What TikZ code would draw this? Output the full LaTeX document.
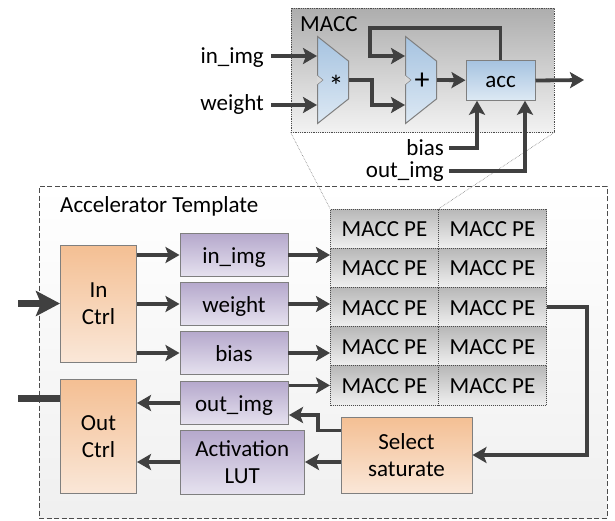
\documentclass[tikz,border=0pt]{standalone}
\usepackage{fontspec}
\setmainfont{Carlito}
\usetikzlibrary{shapes.geometric, arrows.meta}
\definecolor{linegray}{HTML}{404040}
\definecolor{edgegray}{HTML}{7F7F7F}
\definecolor{ctrltop}{HTML}{F4BF93}
\definecolor{ctrlbottom}{HTML}{FAE7D8}
\definecolor{buftop}{HTML}{B5A8CC}
\definecolor{bufbottom}{HTML}{E6E2EF}
\definecolor{muxtop}{HTML}{A6C3E0}
\definecolor{muxbottom}{HTML}{DDE9F4}
\tikzset{
	blocknode/.style = {rectangle, inner sep=0pt, text centered, draw=edgegray, line width=1pt, align=center, text=black},
	ctrl/.style = {blocknode, minimum width=76pt, top color=ctrltop, bottom color=ctrlbottom},
	lutblock/.style = {blocknode, top color=buftop, bottom color=bufbottom},
	buffer/.style = {lutblock, minimum width=108pt, minimum height=43.5pt, text height=18pt, text depth=2pt},
	macc/.style = {blocknode, minimum width=108pt, minimum height=39.2pt, text height=18pt, text depth=2pt, draw=black!70, densely dotted, top color=black!28, bottom color=black!6},
	mux/.style = {trapezium, trapezium left angle=57, trapezium right angle=57, trapezium stretches=true, shape border rotate=270, inner sep=1pt, minimum height=31pt, minimum width=87pt, draw=edgegray, line width=1pt, top color=muxtop, bottom color=muxbottom},
	clkmark/.style = {draw=edgegray, fill=black!15, line width=0.5pt},
	textlabel/.style = {inner sep=0pt},
	muxsign/.style = {inner sep=0pt, font=\fontsize{30}{30}\selectfont},
	line/.style = {draw=linegray, line width=3.8pt, -{Stealth[length=14pt, width=16pt, inset=3pt]}},
	bigline/.style = {draw=linegray, line width=7pt, -{Stealth[length=24pt, width=25pt, inset=5pt]}},
	plainline/.style = {draw=linegray, line width=7pt}
}
\begin{document}
\begin{tikzpicture}[x=1pt, y=-1pt, node distance=49pt, font=\fontsize{23}{27}\selectfont]
	\useasboundingbox (0,0) rectangle (615,520);
	% Define outer frames
	\node (template) [rectangle, draw=black!70, dash pattern=on 5pt off 2.5pt, line width=0.8pt, minimum width=568pt, minimum height=332pt, top color=white, bottom color=black!6] at (323,352) {};
	\node (maccbox) [rectangle, draw=black!70, densely dotted, line width=0.8pt, minimum width=263pt, minimum height=124pt, top color=black!32, bottom color=black!5] at (422.5,70) {};
	\node (templatename) [textlabel, anchor=base west] at (60,212.5) {Accelerator Template};
	\node (maccname) [textlabel, anchor=base west] at (300,31) {MACC};

	% Define MACC components
	\node (mult) [mux] at (333,80) {};
	\node (add) [mux] at (421,80) {};
	\node (multsign) [muxsign] at (336,86) {*};
	\node (addsign) [muxsign] at (422,81) {+};
	\node (acc) [blocknode, minimum width=69pt, minimum height=39.5pt, text height=18pt, text depth=4pt, top color=muxtop, bottom color=muxbottom] at (500.5,80.5) {acc};
	\node (macc_in_img) [textlabel, anchor=base east] at (264,63.5) {in\_img};
	\node (macc_weight) [textlabel, anchor=base east] at (264,110) {weight};
	\node (macc_bias) [textlabel, anchor=base east] at (444,155.5) {bias};
	\node (macc_out_img) [textlabel, anchor=base east] at (444,177.5) {out\_img};
	\coordinate (macc_out) at (584,80);
	\coordinate (add_top) at (405,56);
	\coordinate (add_low) at (405,105);
	\coordinate (mult_top) at (317,56);
	\coordinate (mult_low) at (317,105);
	\draw [clkmark] (mult.west) ++(0,-5) -- ++(6,5) -- ++(-6,5);
	\draw [clkmark] (add.west) ++(0,-5) -- ++(6,5) -- ++(-6,5);

	% Define accelerator components
	\node (in_ctrl) [ctrl, minimum height=117pt] at (98.5,303.5) {In\\Ctrl};
	\node (out_ctrl) [ctrl, minimum height=114pt, below of=in_ctrl, yshift=-84pt] {Out\\Ctrl};
	\node (in_img) [buffer] at (234,255) {in\_img};
	\node (weight) [buffer, below of=in_img] {weight};
	\node (bias) [buffer, below of=weight] {bias};
	\node (out_img) [buffer, below of=bias, yshift=-1pt] {out\_img};
	\node (lut) [lutblock, minimum width=124.5pt, minimum height=64pt] at (242.25,462) {Activation\\LUT};
	\node (select) [ctrl, minimum width=131pt, minimum height=76pt] at (406.5,455) {Select\\saturate};
	\coordinate (ext_in) at (18,303.5);
	\coordinate (ext_out) at (18,398);
	\coordinate (pe_bend) at (587,307);

	% Define PE array
	\begin{scope}[node distance=39.2pt]
		\node (pe_a) [macc] at (384.5,228.6) {MACC PE};
		\node (pe_b) [macc, below of=pe_a] {MACC PE};
		\node (pe_c) [macc, below of=pe_b] {MACC PE};
		\node (pe_d) [macc, below of=pe_c] {MACC PE};
		\node (pe_e) [macc, below of=pe_d] {MACC PE};
		\node (pe_f) [macc, right of=pe_a, xshift=68.8pt] {MACC PE};
		\node (pe_g) [macc, below of=pe_f] {MACC PE};
		\node (pe_h) [macc, below of=pe_g] {MACC PE};
		\node (pe_i) [macc, below of=pe_h] {MACC PE};
		\node (pe_j) [macc, below of=pe_i] {MACC PE};
	\end{scope}

	% Define zoom lines
	\draw [black!50, densely dotted, line width=0.6pt] (maccbox.south west) -- (pe_a.north west);
	\draw [black!50, densely dotted, line width=0.6pt] (maccbox.south east) -- (pe_a.north east);

	% Define MACC links
	\path [line] (macc_in_img.east |- mult_top) ++(7,0) -- (mult_top);
	\path [line] (macc_weight.east |- mult_low) ++(7,0) -- (mult_low);
	\path [line] (mult.east) -| (372,92) |- (add_low);
	\path [line] (add.east) -- (acc);
	\path [line] (acc.north) -- (500.5,28) -| (370,40) |- (add_top);
	\path [line] (acc.east) -- (macc_out);
	\path [line] (macc_bias.base east) ++(5,-7.5) -| (477,0 |- acc.south);
	\path [line] (macc_out_img.base east) ++(5,-6.5) -| (525,0 |- acc.south);

	% Define accelerator links
	\path [bigline] (ext_in) -- (in_ctrl);
	\path [plainline] (ext_out) -- (out_ctrl.west |- ext_out);
	\path [line] (in_ctrl.east |- in_img) -- (in_img);
	\path [line] (in_ctrl.east |- weight) -- (weight);
	\path [line] (in_ctrl.east |- bias) -- (bias);
	\path [line] (in_img) ++(54,0) -- (pe_b.west |- in_img);
	\path [line] (weight) ++(54,0) -- (pe_c.west |- weight);
	\path [line] (bias) ++(54,0) -- (pe_d.west |- bias);
	\path [line] (out_img.east |- pe_e) -- (pe_e);
	\path [line] (out_img.west) -- (out_ctrl.east |- out_img);
	\path [line] (lut.west) -- (out_ctrl.east |- lut);
	\path [line] (select.west |- lut) -- (lut.east);
	\path [line] (select.west) ++(0,-24.5) -| (318,415) -- (289,415);
	\path [line] (pe_h.east) -- (pe_bend) |- (select.east);
\end{tikzpicture}
\end{document}
